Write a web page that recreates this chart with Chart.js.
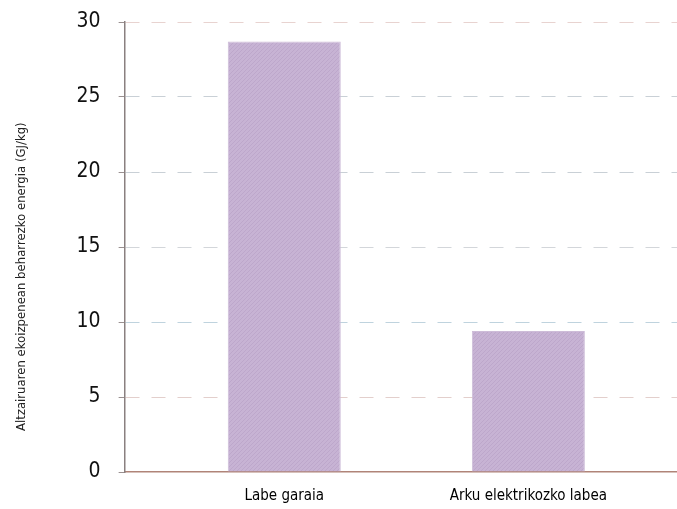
<!DOCTYPE html>
<html><head><meta charset="utf-8">
<script src="https://cdn.jsdelivr.net/npm/chart.js@4/dist/chart.umd.min.js"></script>
<style>html,body{margin:0;padding:0;background:#fff}#wrap{width:677px;height:509px}</style>
</head><body><div id="wrap"><canvas id="c" width="677" height="509"></canvas></div>
<script>
const categories = ['Labe garaia', 'Arku elektrikozko labea'];
const energyValues = [28.7, 9.4];
const yTitle = 'Altzairuaren ekoizpenean beharrezko energia (GJ/kg)';
const FONT = "'Liberation Sans Narrow', 'DejaVu Sans Condensed', 'Arial Narrow', sans-serif";

function hatch() {
  const p = document.createElement('canvas');
  p.width = 4; p.height = 4;
  const g = p.getContext('2d');
  g.fillStyle = '#c7b3d4';
  g.fillRect(0, 0, 4, 4);
  g.strokeStyle = '#baa3c9';
  g.lineWidth = 0.8;
  g.beginPath();
  g.moveTo(0, 4); g.lineTo(4, 0);
  g.moveTo(-1, 1); g.lineTo(1, -1);
  g.moveTo(3, 5); g.lineTo(5, 3);
  g.stroke();
  return g.createPattern(p, 'repeat');
}

const gridColors = {30:'#e8d3d0', 25:'#c9d0d6', 20:'#c9d0d6', 15:'#d3d6da', 10:'#bfd3de', 5:'#e3cfcc', 0:'rgba(0,0,0,0)'};

new Chart(document.getElementById('c'), {
  type: 'bar',
  data: {
    datasets: [{
      data: categories.map((c, i) => ({x: i + 1, y: energyValues[i]})),
      backgroundColor: hatch(),
      borderColor: '#cdbcd8',
      borderWidth: 1,
      barPercentage: 0.463,
      categoryPercentage: 1.0
    }]
  },
  options: {
    responsive: false,
    animation: false,
    layout: {padding: {top: 22, right: 0, left: 14, bottom: 0}},
    plugins: {legend: {display: false}, tooltip: {enabled: false}},
    scales: {
      x: {
        type: 'linear',
        offset: false,
        min: 0.346, max: 2.609,
        afterBuildTicks: s => { s.ticks = categories.map((c, i) => ({value: i + 1})); },
        afterFit: s => { s.height = 37; s.paddingLeft = 0; s.paddingRight = 0; },
        ticks: {
          autoSkip: false,
          callback: v => categories[Math.round(v) - 1] || '',
          color: '#000',
          font: {family: FONT, size: 15},
          padding: 15,
          maxRotation: 0
        },
        grid: {display: false, drawTicks: false, offset: false},
        border: {display: true, color: '#b08478', width: 1.5}
      },
      y: {
        min: 0, max: 30,
        afterFit: s => { s.paddingTop = 0; s.paddingBottom = 0; },
        ticks: {stepSize: 5, color: '#111', font: {family: FONT, size: 21}, padding: 18},
        grid: {
          color: ctx => gridColors[ctx.tick.value] || '#d3d6da',
          tickColor: '#9a9090',
          tickLength: 6,
          lineWidth: 1
        },
        border: {display: true, color: '#8a8080', width: 1.5, dash: [14, 12]},
        title: {
          display: true,
          text: yTitle + '                ',
          color: '#222',
          font: {family: FONT, size: 13},
          padding: {top: 0, bottom: 29}
        }
      }
    }
  }
});
</script>
</body></html>
